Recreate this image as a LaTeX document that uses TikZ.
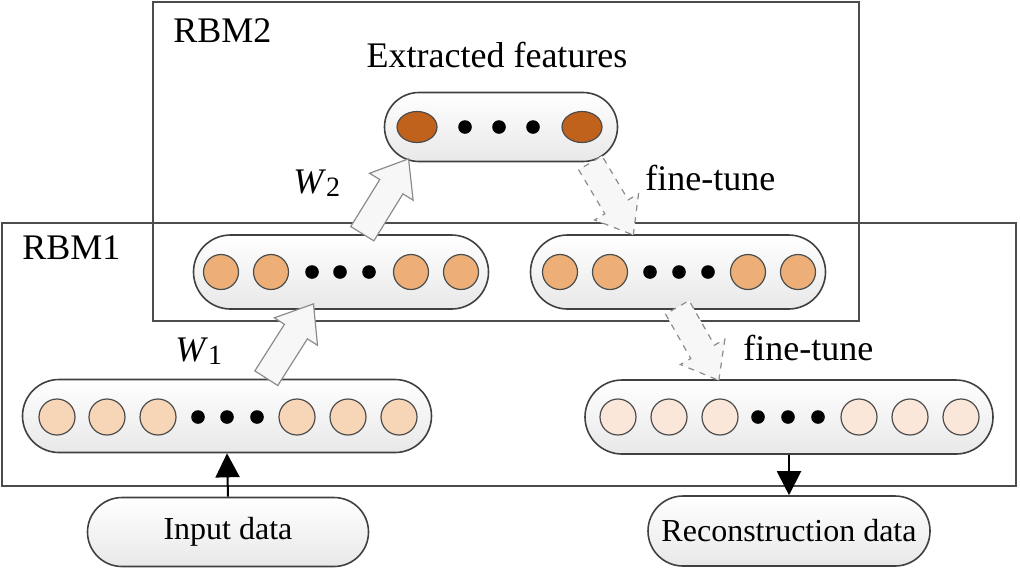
\documentclass[tikz,border=0pt]{standalone}
\usepackage{fontspec}
\setmainfont{Liberation Serif}
\usetikzlibrary{shapes.misc,shapes.arrows,shapes.geometric,arrows.meta,calc}
\definecolor{cTop}{HTML}{C0621C}
\definecolor{cHid}{HTML}{EDAE78}
\definecolor{cVis}{HTML}{F7D6B8}
\definecolor{cRec}{HTML}{FBE7D9}
\begin{document}
\begin{tikzpicture}[x=0.5pt,y=-0.5pt,
  frame/.style={draw=black!70,line width=1pt},
  pill/.style={rounded rectangle,draw=black!75,line width=0.8pt,top color=white,bottom color=black!9,inner sep=0pt},
  unit/.style={circle,draw=black!70,line width=0.6pt,minimum size=#1,inner sep=0pt},
  topunit/.style={ellipse,draw=black!70,line width=0.6pt,fill=cTop,minimum width=20pt,minimum height=15.5pt,inner sep=0pt},
  dotnode/.style={circle,fill=black,minimum size=6.8pt,inner sep=0pt},
  lbl/.style={font=\fontsize{18}{20}\selectfont,inner sep=0pt},
  dlbl/.style={font=\fontsize{16}{18}\selectfont,inner sep=0pt},
  barrow/.style={single arrow,draw=black!45,fill=black!3,line width=0.6pt,inner sep=6.5pt,minimum width=25pt,single arrow head extend=6pt,single arrow tip angle=76,anchor=tail},
  blk/.style={draw=black,line width=1pt,-{Triangle[width=12pt,length=12pt]}}
]
\useasboundingbox (0,0) rectangle (1020,569);
% frames
\draw[frame] (153,2) rectangle (859,321);
\draw[frame] (2,223) rectangle (1016,486);
% labels
\node[lbl,anchor=base west] (rbm2) at (173,42) {RBM2};
\node[lbl,anchor=base west] (rbm1) at (22,259) {RBM1};
\node[lbl,anchor=base] (ext) at (497,67) {Extracted features};
\node[lbl,anchor=base west] (ft1) at (645,190) {fine-tune};
\node[lbl,anchor=base west] (ft2) at (743,360) {fine-tune};
\node[lbl,anchor=base west] (w2) at (293,193) {\textit{W}\raisebox{-1.5pt}{\fontsize{14}{16}\selectfont 2}};
\node[lbl,anchor=base west] (w1) at (175,361) {\textit{W}\raisebox{-1.5pt}{\fontsize{14}{16}\selectfont 1}};
% pills
\node[pill,minimum width=116.5pt,minimum height=34.5pt] (top) at (501,127) {};
\node[pill,minimum width=147.5pt,minimum height=37pt] (h1) at (341,272) {};
\node[pill,minimum width=147.5pt,minimum height=37pt] (h2) at (678,272) {};
\node[pill,minimum width=204.5pt,minimum height=36.5pt] (v1) at (227,416) {};
\node[pill,minimum width=204pt,minimum height=37pt] (v2) at (789,417) {};
\node[pill,minimum width=140.5pt,minimum height=34.5pt,dlbl] (in) at (228,532) {Input data};
\node[pill,minimum width=141pt,minimum height=35pt,dlbl] (rec) at (789,531) {Reconstruction data};
% top units
\node[topunit] (t1) at (417,127) {};
\node[topunit] (t2) at (582,127) {};
\foreach \x/\n in {465/a,499/b,533/c} \node[dotnode] (td\n) at (\x,127) {};
% hidden left
\foreach \x/\n in {221/1,271/2,411/3,461/4} \node[unit=17.5pt,fill=cHid] (ha\n) at (\x,272) {};
\foreach \x/\n in {312/a,340/b,369/c} \node[dotnode] (had\n) at (\x,272) {};
% hidden right
\foreach \x/\n in {560/1,610/2,748/3,798/4} \node[unit=17.5pt,fill=cHid] (hb\n) at (\x,272) {};
\foreach \x/\n in {650/a,679/b,708/c} \node[dotnode] (hbd\n) at (\x,272) {};
% visible left
\foreach \x/\n in {57/1,107/2,158/3,297/4,348/5,399/6} \node[unit=18pt,fill=cVis] (va\n) at (\x,417) {};
\foreach \x/\n in {198/a,227/b,257/c} \node[dotnode] (vad\n) at (\x,417) {};
% visible right
\foreach \x/\n in {618/1,669/2,720/3,859/4,910/5,961/6} \node[unit=18pt,fill=cRec] (vb\n) at (\x,417) {};
\foreach \x/\n in {758/a,788/b,818/c} \node[dotnode] (vbd\n) at (\x,417) {};
% block arrows
\node[barrow,minimum height=44pt,rotate=57.6] (aw1) at ($(v1.north)+(39,0)$) {};
\node[barrow,minimum height=44pt,rotate=58.3] (aw2) at ($(h1.north)+(21,0)$) {};
\node[barrow,dashed,minimum height=42pt,rotate=-59.2] (af1) at ($(top.south)+(89,0)$) {};
\node[barrow,dashed,minimum height=42pt,rotate=-60.4] (af2) at ($(h2.south)+(-1,-3)$) {};
% data arrows
\draw[blk] (in.north) -- (v1.south);
\draw[blk] (v2.south) -- (rec.north);
\end{tikzpicture}
\end{document}
